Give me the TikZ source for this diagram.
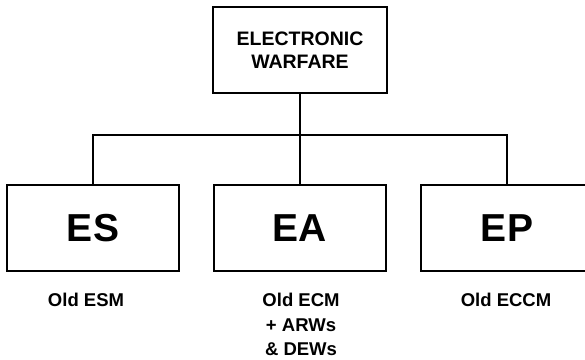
\documentclass[tikz,border=0pt]{standalone}
\usepackage{fontspec}
\setmainfont{Liberation Sans}
\usepackage{tikz}

\begin{document}
\begin{tikzpicture}[
      x=1pt,y=1pt,
      top/.style={draw,line width=2pt,minimum width=174pt,minimum height=86pt,align=center,
        font=\bfseries\fontsize{19.5}{23}\selectfont},
      branch/.style={draw,line width=2pt,minimum width=172pt,minimum height=86pt,
        font=\bfseries\fontsize{39}{39}\selectfont},
      note/.style={anchor=north,inner sep=0pt,align=center,
        font=\bfseries\fontsize{18.5}{24.5}\selectfont},
      wire/.style={line width=2pt}]
    \useasboundingbox (0,0) rectangle (585,359);
    \node[top] (ew) at (300,309) {ELECTRONIC\\WARFARE};
    \node[branch] (es) at (93,131) {ES};
    \node[branch] (ea) at (300,131) {EA};
    \node[branch] (ep) at (507,131) {EP};
    \coordinate (bus) at (300,224);
    \draw[wire] (ew) -- (bus);
    \draw[wire] (es.north) |- (bus) -| (ep.north);
    \draw[wire] (bus) -- (ea.north);
    \node[note] (esl) at (86,66) {Old ESM};
    \node[note] (eal) at (301,66) {Old ECM\\+ ARWs\\\& DEWs};
    \node[note] (epl) at (506,66) {Old ECCM};
  \end{tikzpicture}
\end{document}
